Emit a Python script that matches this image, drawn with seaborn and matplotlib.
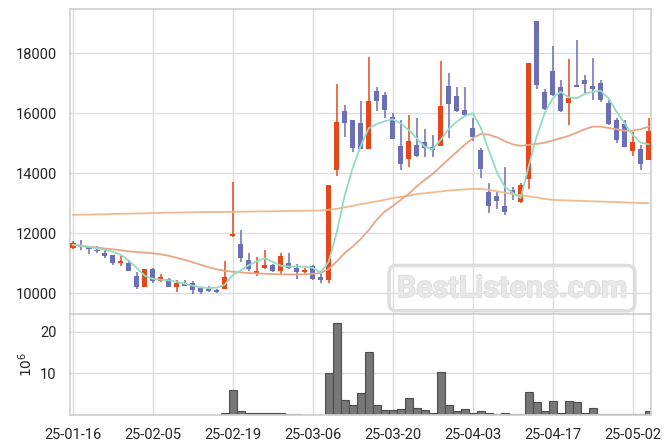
import numpy as np
import pandas as pd
import seaborn as sns
import matplotlib.pyplot as plt
from matplotlib import patheffects

# daily prices, one entry per trading day (25-01-16 .. 25-05-08)
opens = [11490, 11610, 11520, 11420, 11340, 11280, 10990, 11010, 10580, 10190,
         10810, 10410, 10470, 10190, 10350, 10330, 10180, 10140, 10090, 10140,
         11890, 11640, 11110, 10640, 10850, 10930, 10750, 11010, 10830, 10690,
         10910, 10530, 10420, 14090, 16080, 15780, 15680, 14800, 16740, 16610,
         15870, 14910, 14490, 14940, 15040, 14890, 14920, 16910, 16580, 16110,
         15510, 14780, 13380, 13250, 12920, 13440, 13050, 13800, 19080, 16720,
         17410, 16880, 16350, 16940, 17110, 16910, 17010, 16340, 15780, 15640,
         14750, 14800, 14440]
highs = [11750, 11780, 11580, 11580, 11470, 11280, 11220, 11110, 10690, 10800,
         10840, 10630, 10500, 10440, 10440, 10390, 10200, 10220, 10120, 11080,
         13690, 12090, 11330, 11200, 11440, 10960, 11330, 11330, 10980, 10840,
         10940, 10720, 13610, 16980, 16280, 15780, 16410, 17870, 16870, 16720,
         16020, 15780, 15930, 15830, 15470, 15270, 17740, 17330, 16890, 16870,
         15840, 14850, 13670, 13390, 14200, 13530, 13680, 17670, 19080, 16820,
         18240, 17110, 17800, 18440, 17280, 17830, 17110, 16440, 15830, 15780,
         15390, 14940, 15830]
lows = [11470, 11440, 11310, 11350, 11180, 10950, 10910, 10720, 10150, 10190,
        10340, 10380, 10190, 10020, 10230, 9970, 9980, 10020, 10000, 10140,
        11860, 11050, 10750, 10580, 10800, 10700, 10640, 10800, 10470, 10640,
        10450, 10350, 10330, 13890, 15200, 14700, 14800, 14800, 16080, 15830,
        15150, 14110, 14200, 14550, 14550, 14530, 14920, 15170, 16030, 15870,
        15080, 13830, 12670, 12800, 12610, 13110, 12990, 13470, 16800, 16100,
        16560, 16050, 15610, 16880, 16670, 16440, 16390, 15610, 15000, 14870,
        14580, 14090, 14440]
closes = [11670, 11530, 11470, 11390, 11220, 11000, 11080, 10750, 10190, 10800,
          10410, 10530, 10190, 10350, 10250, 10110, 10020, 10070, 10020, 10530,
          11980, 11170, 10800, 10740, 10940, 10750, 11240, 10820, 10690, 10780,
          10480, 10440, 13610, 15710, 15690, 14850, 14800, 16420, 16420, 16110,
          15150, 14300, 15080, 14590, 14850, 14790, 16240, 16300, 16080, 15940,
          15220, 14150, 12890, 13080, 12690, 13320, 13620, 17670, 16940, 16140,
          16610, 16080, 16510, 16880, 16990, 16820, 16440, 15640, 15120, 14890,
          15040, 14300, 15410]

# moving averages as drawn on the chart
ma_short = [11610, 11577, 11543, 11493, 11443, 11377, 11277, 11077, 10843, 10577,
            10477, 10443, 10427, 10377, 10310, 10243, 10193, 10160, 10177, 10277,
            10600, 10750, 10930, 11060, 11160, 11043, 10910, 10887, 10887, 10877,
            10843, 10677, 11043, 12010, 13250, 14170, 14900, 15500, 15643, 15733,
            15800, 15667, 15443, 15167, 14887, 14800, 15110, 15467, 15720, 15910,
            16000, 15533, 14777, 14053, 13550, 13350, 13167, 14220, 15220, 16000,
            16500, 16720, 16533, 16500, 16643, 16720, 16753, 16500, 16053, 15667,
            15277, 15020, 14967]
ma_mid = [11610, 11577, 11543, 11520, 11487, 11460, 11427, 11393, 11367, 11350,
          11327, 11293, 11243, 11177, 11110, 11027, 10943, 10860, 10793, 10743,
          10710, 10687, 10667, 10653, 10643, 10633, 10627, 10620, 10620, 10627,
          10643, 10667, 10800, 11053, 11333, 11553, 11800, 12100, 12443, 12720,
          12900, 13110, 13310, 13553, 13777, 13977, 14220, 14467, 14710, 14943,
          15167, 15310, 15287, 15200, 15070, 14967, 14910, 14943, 14977, 15020,
          15087, 15167, 15243, 15353, 15467, 15553, 15553, 15510, 15467, 15420,
          15420, 15467, 15553]
ma_long = [12610, 12615, 12620, 12625, 12630, 12640, 12645, 12650, 12655, 12660,
           12670, 12675, 12680, 12685, 12690, 12695, 12700, 12702, 12705, 12707,
           12710, 12714, 12718, 12722, 12726, 12730, 12734, 12738, 12742, 12746,
           12750, 12753, 12780, 12810, 12860, 12910, 12967, 13010, 13060, 13110,
           13167, 13210, 13250, 13300, 13330, 13360, 13390, 13420, 13440, 13460,
           13477, 13470, 13450, 13400, 13350, 13300, 13260, 13230, 13190, 13140,
           13110, 13100, 13090, 13080, 13070, 13060, 13053, 13045, 13035, 13025,
           13015, 13005, 13000]

# volume in millions of shares
volume_m = [0, 0, 0, 0, 0, 0, 0, 0, 0, 0,
            0, 0, 0, 0, 0, 0, 0, 0, 0, 0.6,
            6.0, 0.95, 0.6, 0.4, 0.6, 0.4, 0.6, 0.35, 0.35, 0,
            0, 0, 10.2, 22.1, 3.6, 2.5, 5.2, 15.2, 2.5, 1.2,
            1.2, 1.4, 4.0, 1.7, 1.2, 0.6, 10.4, 2.3, 0.9, 1.4,
            0.6, 0.9, 0.6, 0.3, 0.6, 0.3, 0.3, 5.5, 3.1, 0.9,
            3.3, 0.6, 3.3, 3.1, 0.6, 1.7, 0.2, 0.2, 0.2, 0.2,
            0.2, 0.2, 0.9]

tick_labels = ["25-01-16", "25-02-05", "25-02-19", "25-03-06",
               "25-03-20", "25-04-03", "25-04-17", "25-05-02"]

UP = "#e5461a"
DOWN = "#6b6fb5"

df = pd.DataFrame({"open": opens, "high": highs, "low": lows, "close": closes,
                   "ma5": ma_short, "ma20": ma_mid, "ma120": ma_long,
                   "volume": volume_m})
df["day"] = np.arange(len(df))
df["up"] = df["close"] >= df["open"]

sns.set_theme(style="whitegrid")
plt.rcParams["font.family"] = ["Roboto", "DejaVu Sans"]
plt.rcParams["grid.color"] = "#dddddd"
plt.rcParams["axes.edgecolor"] = "#d0d0d0"

fig = plt.figure(figsize=(6.71, 4.44), dpi=100)
ax = fig.add_axes([0.1043, 0.2928, 0.8659, 0.6869])
axv = fig.add_axes([0.1043, 0.0653, 0.8659, 0.2275])

# candles (red = up, blue = down)
colors = np.where(df["up"], UP, DOWN)
ax.vlines(df["day"], df["low"], df["high"], color=colors, lw=1.1, zorder=2)
body_lo = df[["open", "close"]].min(axis=1)
body_h = (df["close"] - df["open"]).abs().clip(lower=15)
ax.bar(df["day"], body_h, bottom=body_lo, width=0.7, color=colors,
       linewidth=0, edgecolor="none", zorder=3)

# moving averages
sns.lineplot(data=df, x="day", y="ma120", ax=ax, color="#efbb8e", lw=1.3, zorder=4)
sns.lineplot(data=df, x="day", y="ma20", ax=ax, color="#e9a585", lw=1.3, zorder=4)
sns.lineplot(data=df, x="day", y="ma5", ax=ax, color="#93dcc2", lw=1.3, zorder=4)

ax.set_xlim(-0.34, 72.3)
ax.set_ylim(9300, 19480)
ax.set_yticks(range(10000, 18001, 2000))
ax.set_xticks(range(0, 71, 10))
ax.tick_params(labelbottom=False, labelsize=10.5)
ax.set_xlabel("")
ax.set_ylabel("")

# volume
sns.barplot(data=df, x="day", y="volume", ax=axv, color="#777777", width=1.0,
            edgecolor="#4d4d4d", linewidth=0.8, saturation=1, native_scale=True)
axv.set_xlim(-0.34, 72.3)
axv.set_ylim(0, 24.3)
axv.set_yticks([10, 20])
axv.set_xticks(range(0, 71, 10))
axv.set_xticklabels(tick_labels)
axv.tick_params(labelsize=10.5)
axv.set_xlabel("")
axv.set_ylabel(r"$10^6$", fontsize=10)

# watermark
fig.text(0.763, 0.351, "BestListens.com", fontsize=22, fontweight="bold",
         color="#e8e8e8", ha="center", va="center", zorder=10,
         path_effects=[patheffects.withStroke(linewidth=1.0, foreground="#dadada")],
         bbox=dict(boxstyle="round,pad=0.25", fc="none", ec="#dedede", lw=2.5))

fig.savefig("out.png", dpi=100)
